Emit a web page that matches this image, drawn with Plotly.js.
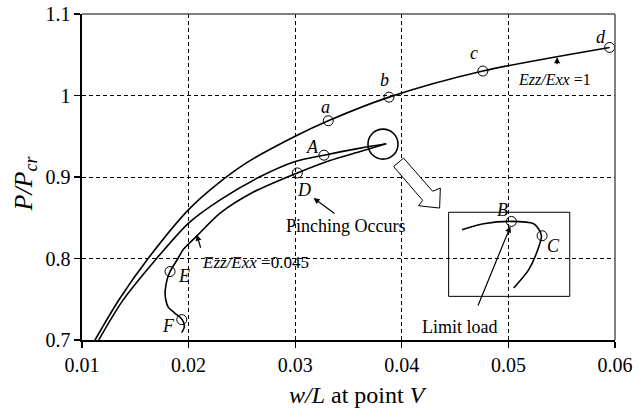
<!DOCTYPE html>
<html>
<head>
<meta charset="utf-8">
<script src="https://cdn.plot.ly/plotly-3.0.1.min.js"></script>
<style>html,body{margin:0;padding:0;background:#fff;}#chart{width:639px;height:411px;}</style>
</head>
<body>
<div id="chart"></div>
<script>
// Curve Ezz/Exx = 1
var curve1W = [0.01122, 0.0135, 0.0162, 0.0200, 0.0228, 0.0255, 0.0300, 0.0331, 0.0388, 0.0476, 0.0595];
var curve1P = [0.700, 0.750, 0.800, 0.860, 0.8925, 0.918, 0.950, 0.969, 0.998, 1.030, 1.059];
// Middle curve (ends at limit load)
var curve2W = [0.01157, 0.0138, 0.0170, 0.0200, 0.02296, 0.0265, 0.0300, 0.0327, 0.0361, 0.03854];
var curve2P = [0.700, 0.748, 0.800, 0.8435, 0.872, 0.899, 0.919, 0.9268, 0.9354, 0.9407];
// Curve Ezz/Exx = 0.045
var curve3W = [0.01935, 0.0196, 0.0194, 0.0187, 0.0181, 0.01785, 0.0178, 0.0180, 0.01826, 0.0190, 0.0195, 0.0208, 0.02296, 0.0260, 0.0302, 0.0332, 0.0361, 0.03854];
var curve3P = [0.709, 0.716, 0.725, 0.733, 0.740, 0.750, 0.760, 0.775, 0.784, 0.800, 0.811, 0.828, 0.8557, 0.881, 0.905, 0.920, 0.9313, 0.9407];
// Inset (magnified limit-load region)
var insetW = [0.04565, 0.04768, 0.05028, 0.05238, 0.05282, 0.0531, 0.05282, 0.05191, 0.0505];
var insetP = [0.8353, 0.8426, 0.8455, 0.8426, 0.8365, 0.8279, 0.8132, 0.7863, 0.7639];
// Labelled points
var ptLabels = ['a', 'b', 'c', 'd', 'A', 'D', 'E', 'F', 'B', 'C'];
var ptW = [0.0331, 0.0388, 0.0476, 0.0595, 0.0327, 0.0302, 0.01826, 0.01936, 0.05028, 0.05316];
var ptP = [0.969, 0.998, 1.030, 1.059, 0.9268, 0.905, 0.784, 0.725, 0.8455, 0.8279];
var xTicks = [0.01, 0.02, 0.03, 0.04, 0.05, 0.06];
var xTickText = ['0.01', '0.02', '0.03', '0.04', '0.05', '0.06'];
var yTicks = [0.7, 0.8, 0.9, 1.0, 1.1];
var yTickText = ['0.7', '0.8', '0.9', '1', '1.1'];

var FONT = "'Liberation Serif', 'Times New Roman', Times, serif";
var lineStyle = {color: '#000', width: 1.6, shape: 'spline', smoothing: 0.8};

var traces = [
  {x: curve1W, y: curve1P, mode: 'lines', line: lineStyle, hoverinfo: 'skip'},
  {x: curve2W, y: curve2P, mode: 'lines', line: lineStyle, hoverinfo: 'skip'},
  {x: curve3W, y: curve3P, mode: 'lines', line: lineStyle, hoverinfo: 'skip'},
  {x: insetW, y: insetP, mode: 'lines', line: lineStyle, hoverinfo: 'skip'},
  {x: ptW, y: ptP, mode: 'markers', marker: {symbol: 'circle-open', size: 10, color: '#000', line: {width: 1, color: '#000'}}, hoverinfo: 'skip'}
];

// pixel -> data helpers for decorative shapes (plot area 82..615 x, 14..340 y)
function pxX(p) { return 0.01 + (p - 82) / 10650; }
function pxY(p) { return 1.1 - (p - 14) / 816; }
function paperX(p) { return (p - 82) / 533; }
function paperY(p) { return (340 - p) / 326; }
var arrowPx = [[403.3,158.3],[432.3,191.5],[440,188.3],[439.3,208.3],[418.3,206],[422.3,200.5],[393.3,166.7]];
var path = arrowPx.map(function(p, i){ return (i ? 'L' : 'M') + pxX(p[0]) + ',' + pxY(p[1]); }).join(' ') + ' Z';

var cx = pxX(382.7), cy = pxY(144.3), rx = 15 / 10650, ry = 15 / 816;

var shapes = [
  {type: 'rect', xref: 'x', yref: 'y', x0: pxX(448.3), x1: pxX(569.3), y0: pxY(296.7), y1: pxY(212.5), line: {color: '#000', width: 1}, fillcolor: '#fff', layer: 'below'},
  {type: 'circle', xref: 'x', yref: 'y', x0: cx - rx, x1: cx + rx, y0: cy - ry, y1: cy + ry, line: {color: '#000', width: 1.6}},
  {type: 'path', xref: 'x', yref: 'y', path: path, line: {color: '#000', width: 1}, fillcolor: '#fff'},
  {type: 'line', xref: 'paper', yref: 'paper', x0: 0, x1: 1, y0: 1, y1: 1, line: {color: '#555', width: 1.5}},
  {type: 'line', xref: 'paper', yref: 'paper', x0: 1, x1: 1, y0: 0, y1: 1, line: {color: '#555', width: 1.5}}
];

function txt(x, y, text, size, italic) {
  return {x: x, y: y, xref: 'x', yref: 'y', text: italic ? '<i>' + text + '</i>' : text, showarrow: false,
          font: {family: FONT, size: size, color: '#000'}, xanchor: 'center', yanchor: 'middle'};
}
function arr(hx, hy, ax, ay) {
  return {x: pxX(hx), y: pxY(hy), xref: 'x', yref: 'y', text: ' ', showarrow: true, arrowhead: 2, arrowsize: 1,
          arrowwidth: 1.2, arrowcolor: '#000', ax: ax, ay: ay, standoff: 0, startstandoff: 0,
          font: {family: FONT, size: 4, color: '#000'}};
}

var annotations = [
  txt(pxX(325), pxY(107), 'a', 18, true),
  txt(pxX(384), pxY(80), 'b', 18, true),
  txt(pxX(474), pxY(53), 'c', 18, true),
  txt(pxX(600.7), pxY(36.7), 'd', 18, true),
  txt(pxX(312.7), pxY(146.7), 'A', 18, true),
  txt(pxX(304), pxY(190), 'D', 18, true),
  txt(pxX(184), pxY(276.7), 'E', 18, true),
  txt(pxX(168), pxY(326.7), 'F', 18, true),
  txt(pxX(501.7), pxY(210.7), 'B', 18, true),
  txt(pxX(553.3), pxY(246.7), 'C', 18, true),
  txt(pxX(554), pxY(80), '<i>Ezz/Exx</i> =1', 16, false),
  txt(pxX(255), pxY(262.7), '<i>Ezz/Exx</i> =0.045', 17, false),
  txt(pxX(345), pxY(226.7), 'Pinching Occurs', 18, false),
  txt(pxX(459.3), pxY(327.3), 'Limit load', 18, false),
  arr(556.7, 57.3, 0, 11),
  arr(196.7, 235, 5, 17),
  arr(313.3, 198.3, 23, 17),
  arr(510, 226.7, -34, 83),
  // axis titles
  {xref: 'paper', yref: 'paper', x: paperX(357.5), y: paperY(395), text: '<i>w/L</i> at point <i>V</i>', showarrow: false,
   font: {family: FONT, size: 24, color: '#000'}, xanchor: 'center', yanchor: 'middle'},
  {xref: 'paper', yref: 'paper', x: paperX(24), y: paperY(183.5), text: '<i>P/P<sub>cr</sub></i>', showarrow: false, textangle: -90,
   font: {family: FONT, size: 26, color: '#000'}, xanchor: 'center', yanchor: 'middle'}
];

var layout = {
  width: 639, height: 411,
  margin: {l: 82, r: 24, t: 14, b: 71},
  paper_bgcolor: '#fff', plot_bgcolor: '#fff',
  showlegend: false,
  font: {family: FONT, color: '#000'},
  xaxis: {
    range: [0.01, 0.06], tickvals: xTicks, ticktext: xTickText,
    showgrid: true, gridcolor: '#000', gridwidth: 1, griddash: '4px,3px',
    zeroline: false, showline: true, linecolor: '#000', linewidth: 1.6,
    ticks: 'outside', ticklen: 6, tickcolor: '#000', tickwidth: 1.3,
    tickfont: {family: FONT, size: 20, color: '#000'},
    fixedrange: true
  },
  yaxis: {
    range: [0.7, 1.1], tickvals: yTicks, ticktext: yTickText,
    showgrid: true, gridcolor: '#000', gridwidth: 1, griddash: '4px,3px',
    zeroline: false, showline: true, linecolor: '#000', linewidth: 1.6,
    ticks: 'outside', ticklen: 6, tickcolor: '#000', tickwidth: 1.3,
    tickfont: {family: FONT, size: 20, color: '#000'},
    fixedrange: true
  },
  shapes: shapes,
  annotations: annotations
};

Plotly.newPlot('chart', traces, layout, {staticPlot: true, displayModeBar: false});
</script>
</body>
</html>
